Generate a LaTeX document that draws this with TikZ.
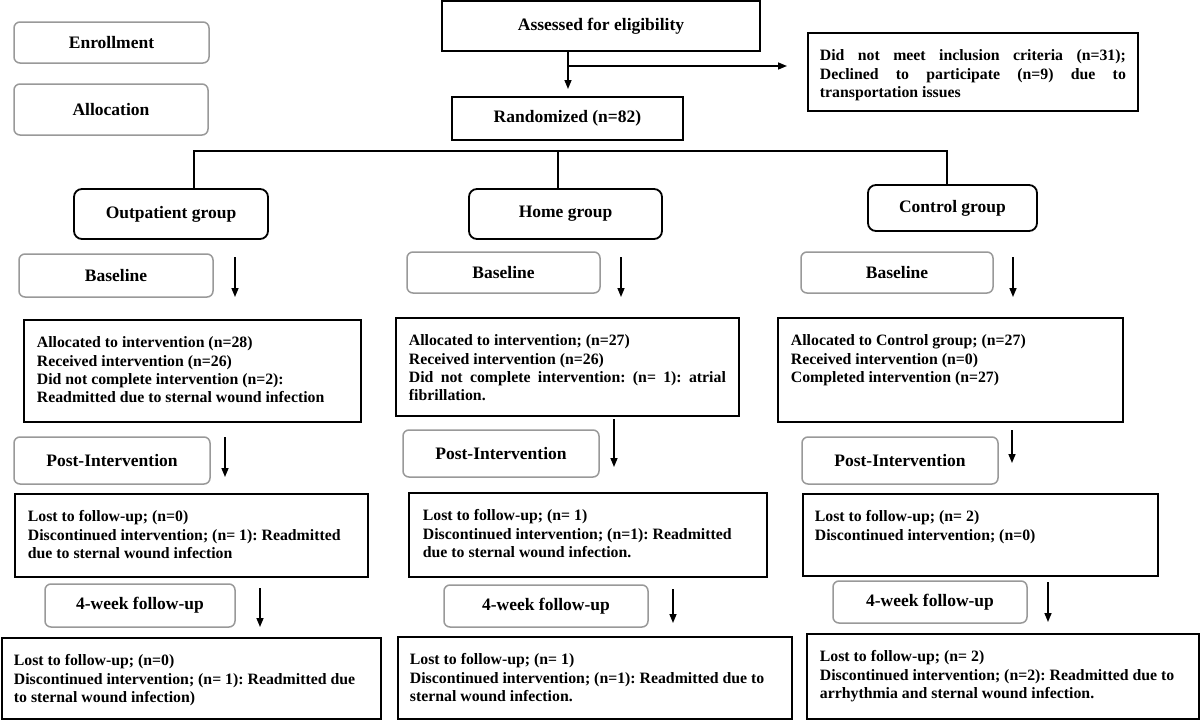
\documentclass[tikz,border=0pt]{standalone}
\usepackage{fontspec}
\setmainfont{Liberation Serif}
\usetikzlibrary{arrows.meta}
\frenchspacing
\newcommand{\hfnt}{\fontsize{17.5}{20}\selectfont\bfseries}
\newcommand{\bfnt}{\fontsize{15.8}{18.3}\selectfont\bfseries}
% body text block: height, width, text
\newcommand{\btxt}[3]{\parbox[c][#1pt][t]{#2pt}{\rule{0pt}{28pt}#3}}
\newcommand{\jline}[1]{\makebox[\linewidth][s]{#1}}
\tikzset{
  gbox/.style={draw=black!40, line width=1.5pt, rounded corners=6pt, font=\hfnt, inner sep=0pt},
  grpbox/.style={draw=black, line width=1.8pt, rounded corners=8pt, font=\hfnt, inner sep=0pt},
  hbox/.style={draw=black, line width=1.8pt, font=\hfnt, inner sep=0pt},
  bbox/.style={draw=black, line width=1.8pt, font=\bfnt, anchor=north west, inner ysep=0pt, align=left},
  arr/.style={line width=1.5pt, -{Triangle[length=9pt,width=7pt]}},
  lnk/.style={line width=1.8pt}
}
\begin{document}
\begin{tikzpicture}[x=1pt,y=-1pt]
\useasboundingbox (0,0) rectangle (1200,720);
\fill[white] (0,0) rectangle (1200,720);

% top
\node[gbox, minimum width=195pt, minimum height=41pt] (enr) at (111.5,42.5) {Enrollment};
\node[gbox, minimum width=194pt, minimum height=51pt] (alloc) at (111,109.5) {Allocation};
\node[hbox, minimum width=318pt, minimum height=50pt] (assess) at (601,26) {Assessed for eligibility};
\node[hbox, minimum width=231pt, minimum height=43pt] (rand) at (567.5,118.5) {Randomized (n=82)};
\node[bbox, inner xsep=12pt] (excl) at (807,32) {\btxt{78}{306}{%
\jline{Did not meet inclusion criteria (n=31);}\\
\jline{Declined to participate (n=9) due to}\\
transportation issues}};

\coordinate (a0) at (568,51);
\coordinate (a1) at (568,89);
\coordinate (a2) at (568,66);
\coordinate (a3) at (787,66);
\draw[arr] (a0) -- (a1);
\draw[arr] (a2) -- (a3);

% groups
\node[grpbox, minimum width=194pt, minimum height=50pt] (outp) at (171,214) {Outpatient group};
\node[grpbox, minimum width=193pt, minimum height=50pt] (home) at (565.5,214) {Home group};
\node[grpbox, minimum width=169pt, minimum height=46pt] (ctrl) at (952.5,208) {Control group};

\coordinate (hl) at (194,151);
\coordinate (hm) at (558,151);
\coordinate (hr) at (947,151);
\draw[lnk] (194,189) -- (hl) -- (hr) -- (947,185);
\draw[lnk] (hm) -- (558,189);

% stage labels
\node[gbox, minimum width=194pt, minimum height=43pt] (baseL) at (116,275.5) {Baseline};
\node[gbox, minimum width=193pt, minimum height=41pt] (baseM) at (503.5,272.5) {Baseline};
\node[gbox, minimum width=192pt, minimum height=41pt] (baseR) at (897,272.5) {Baseline};
\node[gbox, minimum width=196pt, minimum height=47pt] (postL) at (112,460.5) {Post-Intervention};
\node[gbox, minimum width=196pt, minimum height=47pt] (postM) at (501,453.5) {Post-Intervention};
\node[gbox, minimum width=196pt, minimum height=47pt] (postR) at (900,460.5) {Post-Intervention};
\node[gbox, minimum width=190pt, minimum height=43pt] (fuL) at (140,605.5) {4-week follow-up};
\node[gbox, minimum width=204pt, minimum height=42pt] (fuM) at (546,606) {4-week follow-up};
\node[gbox, minimum width=194pt, minimum height=42pt] (fuR) at (930,602) {4-week follow-up};

% body boxes row 1
\node[bbox, inner xsep=13pt] (l1) at (23,319) {\btxt{102}{311}{%
Allocated to intervention (n=28)\\
Received intervention (n=26)\\
Did not complete intervention (n=2):\\
Readmitted due to sternal wound infection}};
\node[bbox, inner xsep=13pt] (m1) at (395,317) {\btxt{98}{317}{%
Allocated to intervention; (n=27)\\
Received intervention (n=26)\\
\jline{Did not complete intervention: (n= 1): atrial}\\
fibrillation.}};
\node[bbox, inner xsep=13pt] (r1) at (777,317) {\btxt{104}{319}{%
Allocated to Control group; (n=27)\\
Received intervention (n=0)\\
Completed intervention (n=27)}};

% row 2
\node[bbox, inner xsep=13pt] (l2) at (14,493) {\btxt{83}{327}{%
Lost to follow-up; (n=0)\\
Discontinued intervention; (n= 1): Readmitted\\
due to sternal wound infection}};
\node[bbox, inner xsep=14pt] (m2) at (408,492) {\btxt{84}{330}{%
Lost to follow-up; (n= 1)\\
Discontinued intervention; (n=1): Readmitted\\
due to sternal wound infection.}};
\node[bbox, inner xsep=12pt] (r2) at (802,493) {\btxt{82}{331}{%
Lost to follow-up; (n= 2)\\
Discontinued intervention; (n=0)}};

% row 3
\node[bbox, inner xsep=12pt] (l3) at (1,637) {\btxt{81}{355}{%
Lost to follow-up; (n=0)\\
Discontinued intervention; (n= 1): Readmitted due\\
to sternal wound infection)}};
\node[bbox, inner xsep=12pt] (m3) at (397,636) {\btxt{82}{370}{%
Lost to follow-up; (n= 1)\\
Discontinued intervention; (n=1): Readmitted due to\\
sternal wound infection.}};
\node[bbox, inner xsep=13pt] (r3) at (806,633) {\btxt{85}{366}{%
Lost to follow-up; (n= 2)\\
Discontinued intervention; (n=2): Readmitted due to\\
arrhythmia and sternal wound infection.}};

% arrows
\coordinate (bL0) at (235,257); \coordinate (bL1) at (235,297);
\coordinate (bM0) at (621,257); \coordinate (bM1) at (621,297);
\coordinate (bR0) at (1013,257); \coordinate (bR1) at (1013,297);
\coordinate (pL0) at (225,437); \coordinate (pL1) at (225,477);
\coordinate (pM0) at (614,419); \coordinate (pM1) at (614,467);
\coordinate (pR0) at (1012,430); \coordinate (pR1) at (1012,463);
\coordinate (fL0) at (260,588); \coordinate (fL1) at (260,627);
\coordinate (fM0) at (673,589); \coordinate (fM1) at (673,623);
\coordinate (fR0) at (1048,582); \coordinate (fR1) at (1048,622);
\foreach \p in {bL,bM,bR,pL,pM,pR,fL,fM,fR}{\draw[arr] (\p0) -- (\p1);}
\end{tikzpicture}
\end{document}
